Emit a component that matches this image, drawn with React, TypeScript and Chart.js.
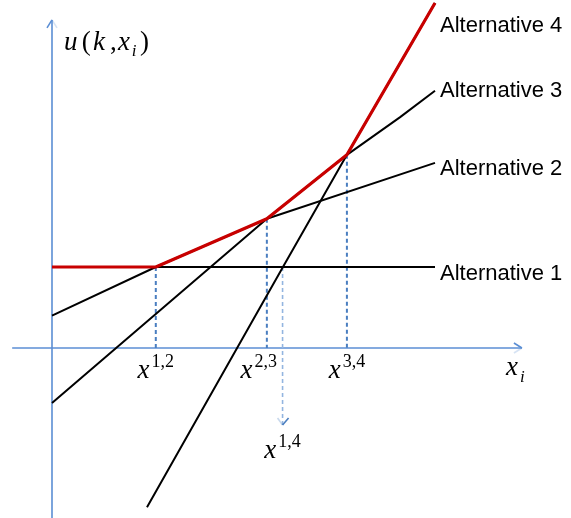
import React, { useEffect, useRef } from 'react';
import { Chart, registerables } from 'chart.js';

Chart.register(...registerables);

// ---- data (abstract units: origin at the axes crossing) ----
const alternativeNames = ['Alternative 1', 'Alternative 2', 'Alternative 3', 'Alternative 4'];
const alt1X = [0, 10];
const alt1Y = [2, 2];
const alt2X = [0, 2.71, 5.61, 10];
const alt2Y = [0.8, 2.0, 3.19, 4.57];
const alt3X = [0, 5.61, 7.7, 9.09, 10];
const alt3Y = [-1.36, 3.19, 4.77, 5.7, 6.35];
const alt4X = [2.48, 6.03, 7.7, 10];
const alt4Y = [-3.93, 2.0, 4.77, 8.52];
const envelopeX = [0, 2.71, 5.61, 7.7, 10];
const envelopeY = [2, 2, 3.19, 4.77, 8.52];
const crossLabels = ['1,2', '2,3', '3,4'];
const crossX = [2.71, 5.61, 7.7];
const crossY = [2, 3.19, 4.77];
const x14Label = '1,4';
const x14X = 6.02;
const x14Y = 2;
const x14Bottom = -1.9;
const xAxisRange = [-1.04, 12.27];
const yAxisRange = [-4.2, 8.1];
const xView = [-1.3577, 13.5509];
const yView = [-4.1975, 8.5926];

const pts = (xs: number[], ys: number[]) => xs.map((v, i) => ({ x: v, y: ys[i] }));

const AXIS_COLOR = '#5b8ed4';
const DASH_COLOR = '#4a7ec0';
const LIGHT_DASH = '#93b5e0';
const SERIF = '"Liberation Serif", "Times New Roman", serif';
const SANS = '"Liberation Sans", Arial, sans-serif';

const labelPlugin = {
  id: 'diagramLabels',
  afterDatasetsDraw(chart: any) {
    const { ctx } = chart;
    const xs = chart.scales.x;
    const ys = chart.scales.y;
    const px = (v: number) => xs.getPixelForValue(v);
    const py = (v: number) => ys.getPixelForValue(v);
    ctx.save();

    // arrowheads
    const barb = (x1: number, y1: number, x2: number, y2: number, color: string, alpha: number) => {
      ctx.globalAlpha = alpha;
      ctx.strokeStyle = color;
      ctx.lineWidth = 1.6;
      ctx.beginPath();
      ctx.moveTo(x1, y1);
      ctx.lineTo(x2, y2);
      ctx.stroke();
      ctx.globalAlpha = 1;
    };
    const yTopX = px(0), yTopY = py(yAxisRange[1]);
    barb(yTopX - 5, yTopY + 8, yTopX, yTopY, AXIS_COLOR, 1);
    barb(yTopX + 5, yTopY + 8, yTopX, yTopY, AXIS_COLOR, 0.25);
    const xEndX = px(xAxisRange[1]), xEndY = py(0);
    barb(xEndX - 8, xEndY - 5, xEndX, xEndY, AXIS_COLOR, 1);
    barb(xEndX - 8, xEndY + 5, xEndX, xEndY, AXIS_COLOR, 0.25);
    const aX = px(x14X), aY = py(x14Bottom);
    barb(aX + 6, aY - 7, aX, aY, DASH_COLOR, 1);
    barb(aX - 5, aY - 7, aX, aY, DASH_COLOR, 0.3);

    ctx.fillStyle = '#000';
    ctx.textBaseline = 'alphabetic';
    ctx.textAlign = 'left';

    const drawMath = (cx: number, baseline: number, sup: string) => {
      ctx.font = `italic 27px ${SERIF}`;
      const w1 = ctx.measureText('x').width;
      ctx.font = `18px ${SERIF}`;
      const w2 = ctx.measureText(sup).width;
      const left = cx - (w1 + 2 + w2) / 2;
      ctx.font = `italic 27px ${SERIF}`;
      ctx.fillText('x', left, baseline);
      ctx.font = `18px ${SERIF}`;
      ctx.fillText(sup, left + w1 + 2, baseline - 11);
    };
    const axisY = py(0);
    const shifts = [0, -8, 0];
    crossLabels.forEach((s, i) => drawMath(px(crossX[i]) + shifts[i], axisY + 30, s));
    drawMath(px(x14X), aY + 33, x14Label);

    // x_i
    ctx.font = `italic 27px ${SERIF}`;
    ctx.fillText('x', xEndX - 16, axisY + 27);
    ctx.font = `italic 17px ${SERIF}`;
    ctx.fillText('i', xEndX - 2, axisY + 34);

    // u(k, x_i)
    const ux = yTopX + 12;
    const ub = yTopY + 30;
    const parts: [string, number, string, number][] = [
      ['u', 0, 'italic 27px', 0],
      ['(', 17.7, '27px', 0],
      ['k', 29, 'italic 27px', 0],
      [',', 46, '27px', 0],
      ['x', 54, 'italic 27px', 0],
      ['i', 67.7, 'italic 17px', 6],
      [')', 76, '27px', 0],
    ];
    parts.forEach(([t, dx, f, dy]) => {
      ctx.font = `${f} ${SERIF}`;
      ctx.fillText(t, ux + dx, ub + dy);
    });

    // alternative labels
    ctx.font = `22px ${SANS}`;
    const baselines = [279.5, 175, 96.5, 31.5];
    alternativeNames.forEach((n, i) => ctx.fillText(n, px(10) + 5, baselines[i]));

    ctx.restore();
  },
};

export default function App() {
  const ref = useRef<HTMLCanvasElement | null>(null);
  useEffect(() => {
    if (!ref.current) return;
    const line = (data: any[], color: string, width: number, order: number, dash: number[] = []) => ({
      data,
      showLine: true,
      borderColor: color,
      backgroundColor: color,
      borderWidth: width,
      borderDash: dash,
      pointRadius: 0,
      pointHoverRadius: 0,
      fill: false,
      tension: 0,
      order,
      borderJoinStyle: 'round',
    });
    const datasets: any[] = [
      line(pts(xAxisRange, [0, 0]), AXIS_COLOR, 1.6, 5),
      line(pts([0, 0], yAxisRange), AXIS_COLOR, 1.6, 5),
      ...crossX.map((cx, i) => line(pts([cx, cx], [crossY[i], 0]), DASH_COLOR, 2, 4, [4, 3])),
      line(pts([x14X, x14X], [x14Y, x14Bottom]), LIGHT_DASH, 1.6, 4, [4, 3]),
      line(pts(alt1X, alt1Y), '#000', 2, 2),
      line(pts(alt2X, alt2Y), '#000', 2, 2),
      line(pts(alt3X, alt3Y), '#000', 2, 2),
      line(pts(alt4X, alt4Y), '#000', 2, 2),
      line(pts(envelopeX, envelopeY), '#c80000', 3.2, 0),
    ];
    const chart = new Chart(ref.current, {
      type: 'scatter',
      data: { datasets },
      options: {
        animation: false,
        responsive: true,
        maintainAspectRatio: false,
        events: [],
        layout: { padding: 0 },
        plugins: { legend: { display: false }, tooltip: { enabled: false } },
        scales: {
          x: { type: 'linear', display: false, min: xView[0], max: xView[1] },
          y: { type: 'linear', display: false, min: yView[0], max: yView[1] },
        },
      },
      plugins: [labelPlugin],
    } as any);
    return () => chart.destroy();
  }, []);
  return (
    <div style={{ position: 'absolute', left: 0, top: 0, width: 571, height: 518, background: '#fff' }}>
      <canvas ref={ref} />
    </div>
  );
}
